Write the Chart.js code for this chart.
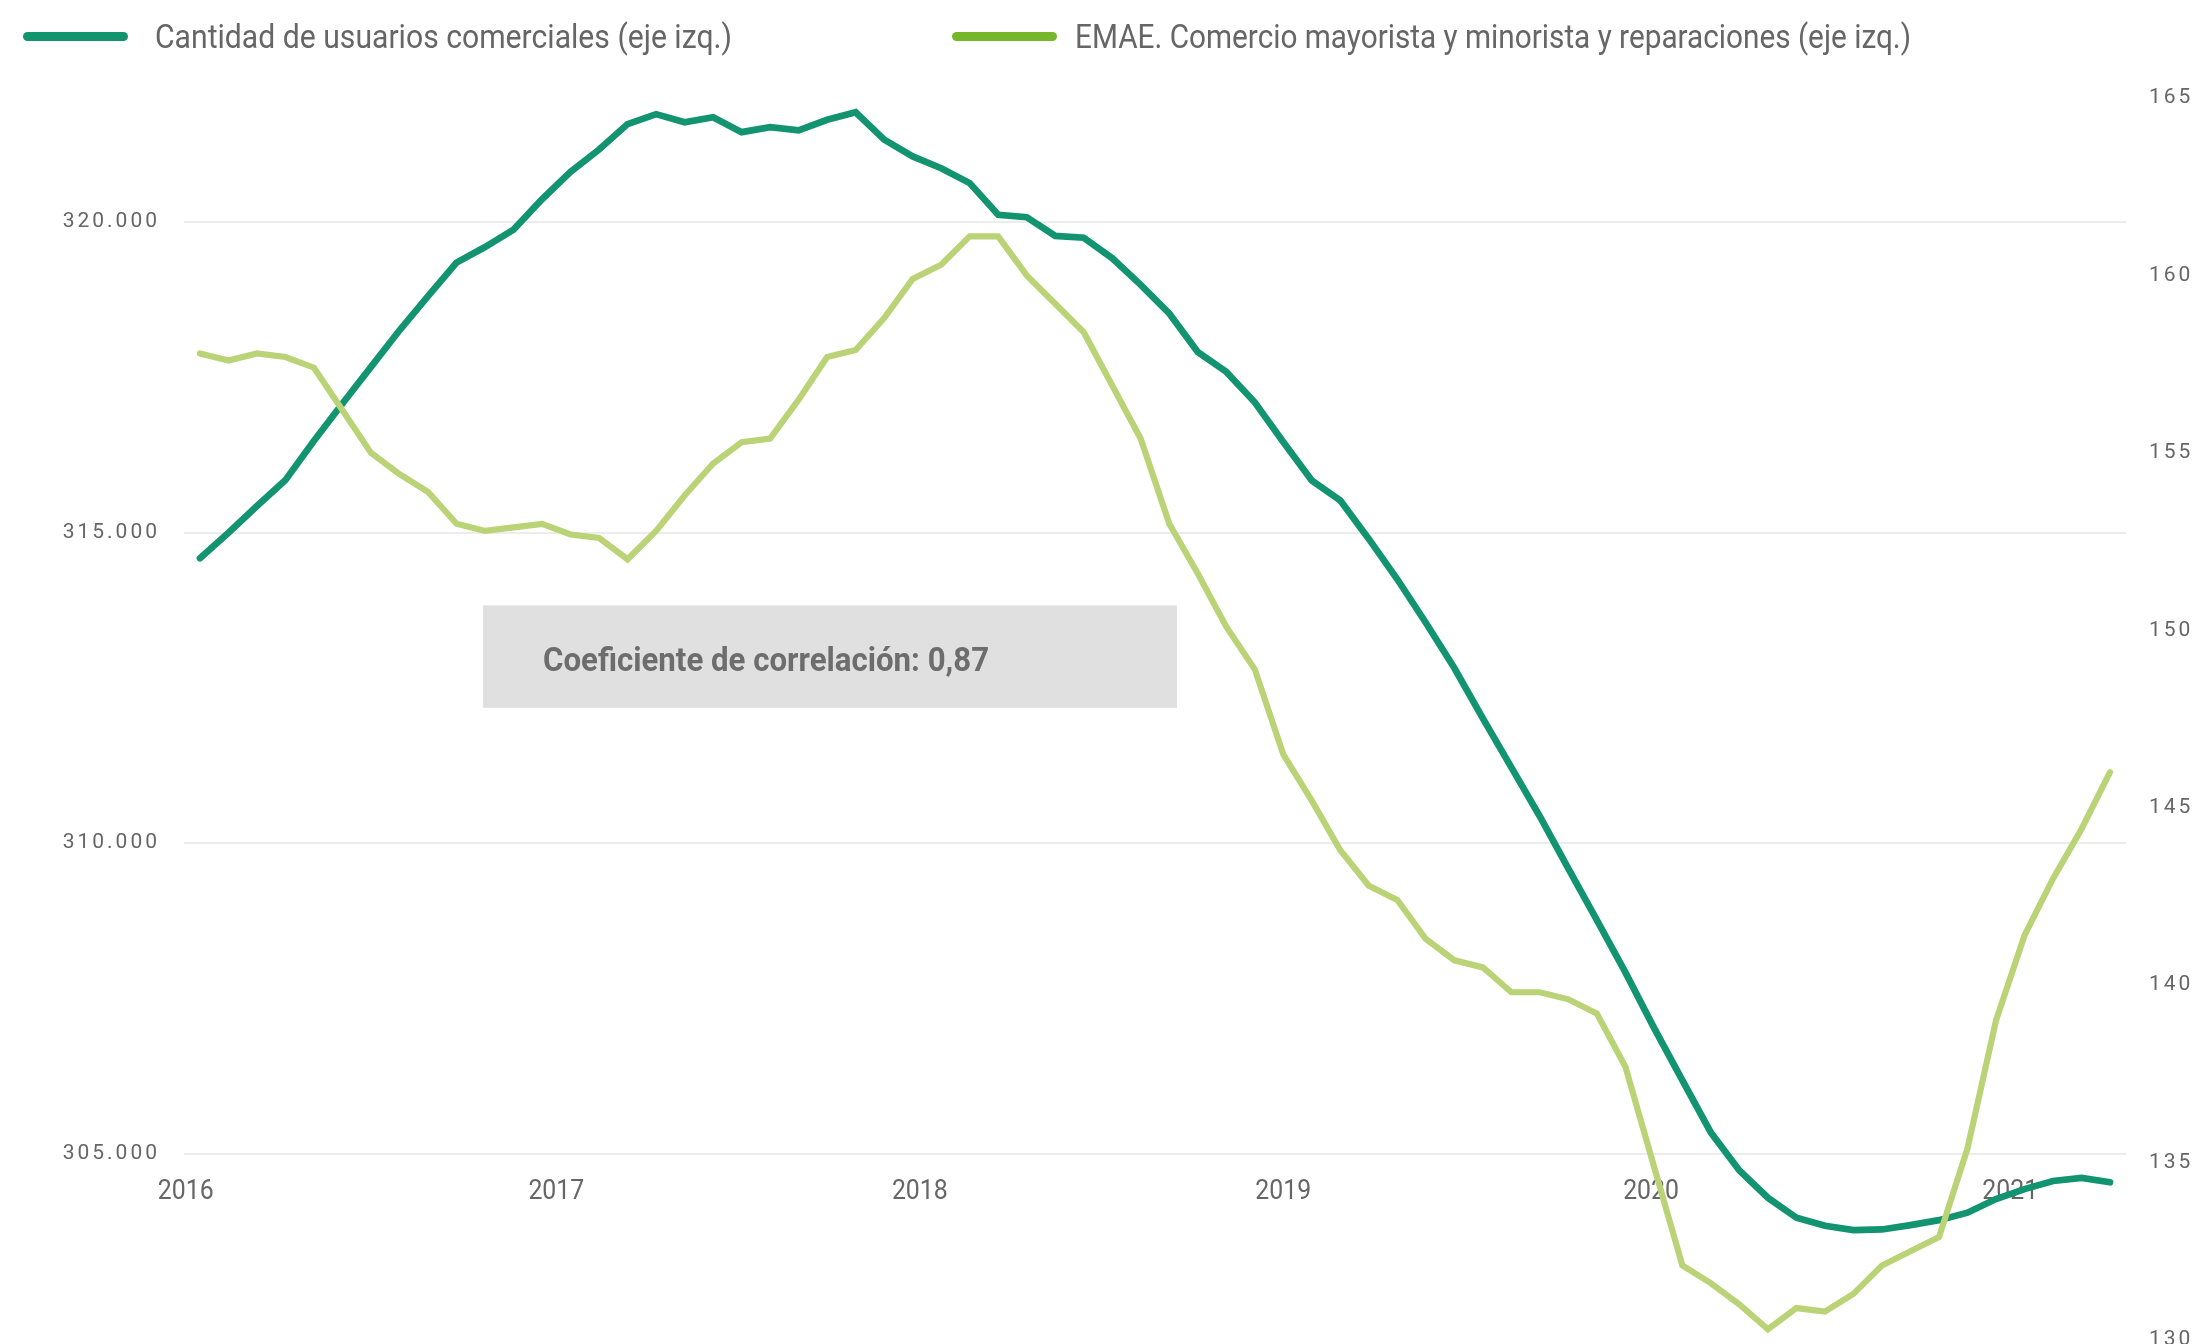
<!DOCTYPE html>
<html>
<head>
<meta charset="utf-8">
<script src="https://cdn.jsdelivr.net/npm/chart.js@4.4.1/dist/chart.umd.min.js"></script>
<style>
  body { margin: 0; background: #fff; }
  #wrap { position: relative; width: 2202px; height: 1344px; }
  #legend { position: absolute; left: 0; top: 14px; width: 2202px; height: 45px; }
  .leg { position: absolute; top: 0; height: 45px; display: flex; align-items: center; white-space: nowrap;
         font-family: Roboto, sans-serif; font-size: 33px; color: #666; }
  .sw { display: inline-block; width: 105px; height: 9px; border-radius: 5px; }
  .txt { display: inline-block; transform-origin: 0 50%; }
</style>
</head>
<body>
<div id="wrap">
  <canvas id="chart" width="2202" height="1344"></canvas>
  <div id="legend"></div>
</div>
<script>
// series names, legend colours
const seriesNames = ['Cantidad de usuarios comerciales (eje izq.)', 'EMAE. Comercio mayorista y minorista y reparaciones (eje izq.)'];
const legendColors = ['#12946f', '#76b72a'];

// one value per month from the first point
const usuarios = [314590, 315000, 315430, 315850, 316480, 317080, 317670, 318260, 318810, 319350,
  319600, 319880, 320370, 320810, 321170, 321580, 321740, 321610, 321690, 321450,
  321530, 321480, 321650, 321770, 321330, 321060, 320870, 320630, 320120, 320080,
  319780, 319750, 319420, 318990, 318530, 317910, 317590, 317100, 316460, 315840,
  315520, 314900, 314250, 313550, 312820, 312010, 311220, 310430, 309590, 308760,
  307920, 307030, 306180, 305340, 304730, 304290, 303970, 303840, 303770, 303780,
  303850, 303930, 304050, 304270, 304430, 304560, 304610, 304540];
const emae = [157.8, 157.6, 157.8, 157.7, 157.4, 156.2, 155.0, 154.4, 153.9, 153.0,
  152.8, 152.9, 153.0, 152.7, 152.6, 152.0, 152.8, 153.8, 154.7, 155.3,
  155.4, 156.5, 157.7, 157.9, 158.8, 159.9, 160.3, 161.1, 161.1, 160.0,
  159.2, 158.4, 156.9, 155.4, 153.0, 151.6, 150.1, 148.9, 146.5, 145.2,
  143.8, 142.8, 142.4, 141.3, 140.7, 140.5, 139.8, 139.8, 139.6, 139.2,
  137.7, 134.9, 132.1, 131.6, 131.0, 130.3, 130.9, 130.8, 131.3, 132.1,
  132.5, 132.9, 135.4, 139.0, 141.4, 143.0, 144.4, 146.0];

// year labels and where they sit on the month axis
const years = ['2016', '2017', '2018', '2019', '2020', '2021'];
const yearAt = [-0.5, 12.5, 25.25, 38, 50.9, 63.5];
const leftTicks = [305000, 310000, 315000, 320000];

const nota = 'Coeficiente de correlación: 0,87';

const fmt = v => String(v).replace(/\B(?=(\d{3})+(?!\d))/g, '.');

// legend in html, Roboto squeezed to a condensed width
const legend = document.getElementById('legend');
const legLeft = [23, 952];
const legGap = [27, 18];
const legWidth = [577, 836];
seriesNames.forEach((name, i) => {
  const d = document.createElement('div');
  d.className = 'leg';
  d.style.left = legLeft[i] + 'px';
  d.innerHTML = '<span class="sw" style="background:' + legendColors[i] + ';margin-right:' + legGap[i] + 'px"></span>';
  const t = document.createElement('span');
  t.className = 'txt';
  t.textContent = name;
  d.appendChild(t);
  legend.appendChild(d);
  t.style.transform = 'scaleX(' + (legWidth[i] / t.getBoundingClientRect().width) + ')';
});

// grey box with the correlation note, in data units
const notaBox = {
  id: 'notaBox',
  beforeDatasetsDraw(chart) {
    const { ctx, scales: { x, yL } } = chart;
    const l = x.getPixelForValue(9.93), r = x.getPixelForValue(34.27);
    const t = yL.getPixelForValue(313830), b = yL.getPixelForValue(312180);
    ctx.save();
    ctx.fillStyle = '#e1e0e1';
    ctx.fillRect(l, t, r - l, b - t);
    ctx.font = 'bold 34px Roboto';
    ctx.fillStyle = '#6d6d6d';
    ctx.textBaseline = 'middle';
    const k = 446 / ctx.measureText(nota).width;
    ctx.translate(l + 60, (t + b) / 2 + 6);
    ctx.scale(k, 1);
    ctx.fillText(nota, 0, 0);
    ctx.restore();
  }
};

// spaced digits on the value axes, narrow year labels
const tickLook = {
  id: 'tickLook',
  beforeDraw(chart) {
    ['yL', 'yR'].forEach(id => {
      const s = chart.scales[id];
      if (s._done) return;
      const orig = s.drawLabels;
      s.drawLabels = function () {
        this.ctx.save();
        this.ctx.letterSpacing = '3px';
        orig.apply(this, arguments);
        this.ctx.restore();
      };
      s._done = true;
    });
    const sx = chart.scales.x;
    if (!sx._done) {
      const orig = sx.drawLabels;
      sx.drawLabels = function () {
        const ctx = this.ctx;
        const f = CanvasRenderingContext2D.prototype.fillText;
        ctx.fillText = function (txt, x, y) {
          this.save();
          this.translate(x, y);
          this.scale(0.92, 1);
          f.call(this, txt, 0, 0);
          this.restore();
        };
        orig.apply(this, arguments);
        delete ctx.fillText;
      };
      sx._done = true;
    }
  }
};

new Chart(document.getElementById('chart'), {
  type: 'line',
  data: {
    datasets: [{
      label: seriesNames[0],
      data: usuarios.map((v, i) => ({ x: i, y: v })),
      yAxisID: 'yL',
      borderColor: '#129470',
      borderWidth: 6.7,
      pointRadius: 0,
      tension: 0,
      borderCapStyle: 'round',
      order: 1
    }, {
      label: seriesNames[1],
      data: emae.map((v, i) => ({ x: i, y: v })),
      yAxisID: 'yR',
      borderColor: '#bad376',
      borderWidth: 6.2,
      pointRadius: 0,
      tension: 0,
      borderCapStyle: 'round',
      order: 0
    }]
  },
  options: {
    responsive: false,
    animation: false,
    layout: { padding: { top: 98, bottom: 4, left: 0, right: 0 } },
    plugins: { legend: { display: false }, tooltip: { enabled: false } },
    scales: {
      x: {
        type: 'linear',
        min: -0.56,
        max: 67.56,
        position: { yL: 305000 },
        grid: { display: false },
        border: { display: false },
        ticks: {
          autoSkip: false,
          maxRotation: 0,
          padding: 14,
          color: '#666',
          font: { family: 'Roboto', size: 27 },
          callback: (v, i) => years[i]
        },
        afterBuildTicks: s => { s.ticks = yearAt.map(v => ({ value: v })); },
        afterFit: s => { s.height = 0; }
      },
      yL: {
        position: 'left',
        min: 302000,
        max: 322000,
        grid: { color: '#ececec', lineWidth: 2, drawTicks: false },
        border: { display: false },
        ticks: {
          padding: 24,
          color: '#666',
          font: { family: 'Roboto', size: 21 },
          callback: v => fmt(v)
        },
        afterBuildTicks: s => { s.ticks = leftTicks.map(v => ({ value: v })); },
        afterFit: s => { s.width = 184; s.paddingTop = 0; s.paddingBottom = 0; }
      },
      yR: {
        position: 'right',
        min: 130,
        max: 165,
        grid: { display: false, drawTicks: false },
        border: { display: false },
        ticks: {
          stepSize: 5,
          padding: 23,
          color: '#666',
          font: { family: 'Roboto', size: 21 }
        },
        afterFit: s => { s.width = 76; s.paddingTop = 0; s.paddingBottom = 0; }
      }
    }
  },
  plugins: [notaBox, tickLook]
});
</script>
</body>
</html>
